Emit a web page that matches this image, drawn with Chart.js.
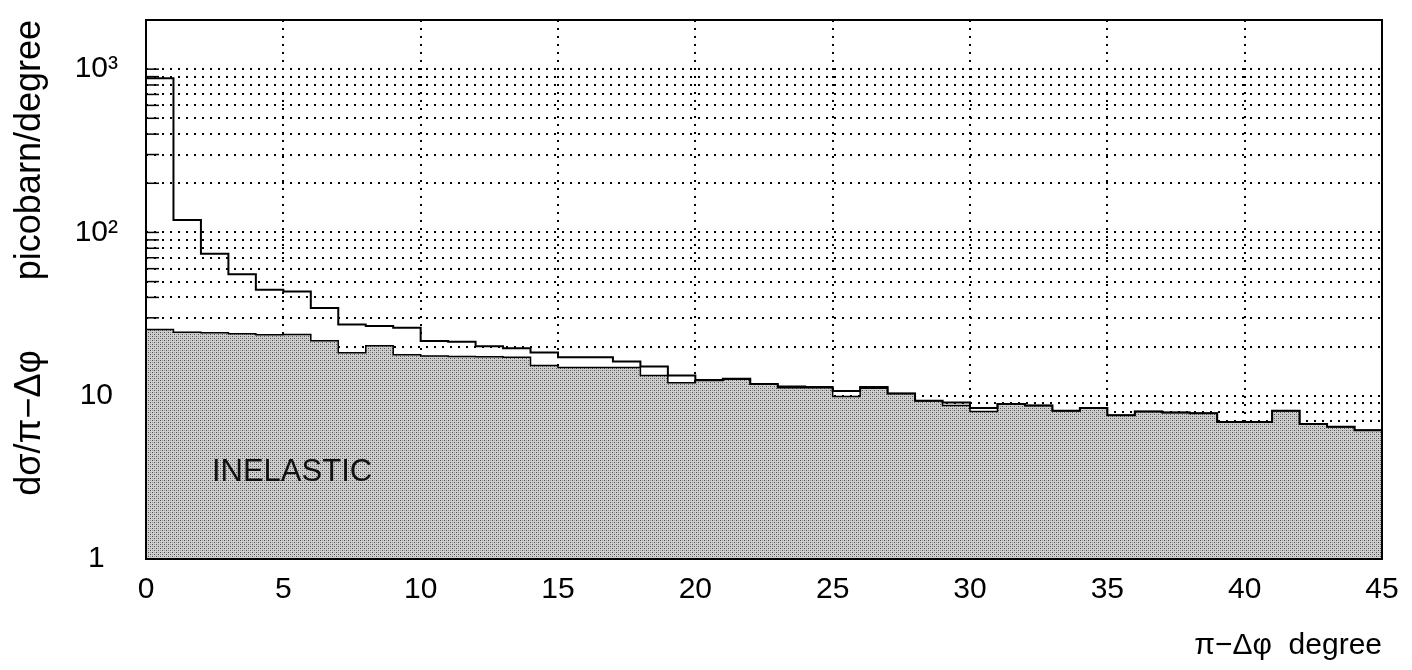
<!DOCTYPE html>
<html>
<head>
<meta charset="utf-8">
<script src="https://cdn.jsdelivr.net/npm/chart.js@4.4.0/dist/chart.umd.min.js"></script>
<style>
  html, body { margin: 0; padding: 0; background: #fff; }
</style>
</head>
<body>
<canvas id="dphiChart" width="1412" height="670"></canvas>
<script>
// 1 degree bins, 0..45
const binEdges = [0, 1, 2, 3, 4, 5, 6, 7, 8, 9, 10, 11, 12, 13, 14, 15, 16, 17, 18, 19, 20, 21, 22,
    23, 24, 25, 26, 27, 28, 29, 30, 31, 32, 33, 34, 35, 36, 37, 38, 39, 40, 41, 42, 43, 44, 45];

// total (elastic + inelastic), picobarn/degree
const totalXsec = [880, 119, 74, 55.5, 44.5, 43.5, 34.4, 27.3, 26.7, 26.1, 21.6, 21.4, 20.1, 19.5, 18.4,
    17.2, 17.2, 16.2, 15.1, 13.3, 12.5, 12.7, 11.8, 11.4, 11.3, 10.7, 11.3, 10.3, 9.3, 9.1,
    8.4, 8.9, 8.7, 8.1, 8.4, 7.6, 8.0, 7.9, 7.8, 6.9, 6.9, 8.1, 6.7, 6.45, 6.15];

// inelastic part (shaded)
const inelasticXsec = [25.4, 24.5, 24.3, 24.0, 23.6, 23.7, 21.7, 18.3, 20.2, 17.8, 17.5, 17.4, 17.3, 17.2, 15.3,
    14.9, 14.9, 14.9, 13.3, 12.0, 12.4, 12.6, 11.8, 11.2, 11.2, 9.9, 11.1, 10.3, 9.3, 8.7,
    8.0, 8.9, 8.7, 8.1, 8.4, 7.6, 8.0, 7.9, 7.8, 6.9, 6.9, 8.1, 6.7, 6.45, 6.15];

const xTickValues = [0, 5, 10, 15, 20, 25, 30, 35, 40, 45];
const yGridValues = [1, 2, 3, 4, 5, 6, 7, 8, 9, 10, 20, 30, 40, 50, 60, 70, 80, 90,
    100, 200, 300, 400, 500, 600, 700, 800, 900, 1000, 2000];
const yLabelValues = [1, 10, 100, 1000];
const yLabelTexts = ['1', '10', '10²', '10³'];

const inelasticLabel = { text: 'INELASTIC', x: 2.4, y: 3.4 };

const FONT = 'Liberation Sans';

function histPoints(values) {
    const pts = values.map((v, i) => ({ x: binEdges[i], y: v }));
    pts.push({ x: binEdges[values.length], y: values[values.length - 1] });
    return pts;
}

// grey halftone like the scanned plot
function halftone() {
    const c = document.createElement('canvas');
    c.width = 4;
    c.height = 4;
    const g = c.getContext('2d');
    g.fillStyle = '#cfcfcf';
    g.fillRect(0, 0, 4, 4);
    g.fillStyle = '#4d4d4d';
    g.fillRect(0, 0, 1, 1);
    g.fillRect(2, 2, 1, 1);
    g.fillStyle = '#9a9a9a';
    g.fillRect(2, 0, 1, 1);
    g.fillRect(0, 2, 1, 1);
    return g.createPattern(c, 'repeat');
}

// small solid ticks inside the left frame
const innerTicks = {
    id: 'innerTicks',
    beforeDatasetsDraw(chart) {
        const { ctx, chartArea, scales } = chart;
        ctx.save();
        ctx.strokeStyle = '#000';
        ctx.lineWidth = 1.5;
        yGridValues.forEach(v => {
            const y = scales.y.getPixelForValue(v);
            ctx.beginPath();
            ctx.moveTo(chartArea.left, y);
            ctx.lineTo(chartArea.left + 13, y);
            ctx.stroke();
        });
        ctx.restore();
    }
};

const frameAndLabel = {
    id: 'frameAndLabel',
    afterDraw(chart) {
        const { ctx, chartArea, scales } = chart;
        ctx.save();
        ctx.strokeStyle = '#000';
        ctx.lineWidth = 2;
        ctx.strokeRect(chartArea.left, chartArea.top,
            chartArea.right - chartArea.left, chartArea.bottom - chartArea.top);
        ctx.fillStyle = '#111';
        ctx.font = '31px "' + FONT + '"';
        ctx.textBaseline = 'middle';
        ctx.fillText(inelasticLabel.text,
            scales.x.getPixelForValue(inelasticLabel.x),
            scales.y.getPixelForValue(inelasticLabel.y));
        ctx.restore();
    }
};

const ctx = document.getElementById('dphiChart').getContext('2d');
new Chart(ctx, {
    type: 'line',
    data: {
        datasets: [{
            label: 'total',
            data: histPoints(totalXsec),
            stepped: 'before',
            borderColor: '#000',
            borderWidth: 2,
            pointRadius: 0,
            fill: false
        }, {
            label: 'inelastic',
            data: histPoints(inelasticXsec),
            stepped: 'before',
            borderColor: '#000',
            borderWidth: 1.5,
            pointRadius: 0,
            backgroundColor: halftone(),
            fill: 'start'
        }]
    },
    options: {
        responsive: false,
        animation: false,
        layout: {
            padding: { top: 20, right: 30, left: 0, bottom: 0 }
        },
        plugins: {
            legend: { display: false },
            tooltip: { enabled: false }
        },
        scales: {
            x: {
                type: 'linear',
                min: 0,
                max: 45,
                afterBuildTicks: scale => {
                    scale.ticks = xTickValues.map(v => ({ value: v }));
                },
                afterFit: scale => {
                    scale.height = 111;
                    scale.paddingLeft = 0;
                    scale.paddingRight = 0;
                },
                ticks: {
                    autoSkip: false,
                    maxRotation: 0,
                    padding: 13,
                    color: '#000',
                    font: { family: FONT, size: 30 }
                },
                grid: { color: '#000', lineWidth: 2, drawTicks: false },
                border: { display: false, dash: [2, 6] },
                title: {
                    display: true,
                    text: 'π−Δφ  degree',
                    align: 'end',
                    color: '#000',
                    font: { family: FONT, size: 30 },
                    padding: { top: 0, bottom: 6 }
                }
            },
            y: {
                type: 'logarithmic',
                min: 1,
                max: 2000,
                afterBuildTicks: scale => {
                    scale.ticks = yGridValues.map(v => ({ value: v }));
                },
                afterFit: scale => {
                    scale.width = 146;
                    scale.paddingTop = 0;
                    scale.paddingBottom = 0;
                },
                ticks: {
                    autoSkip: false,
                    crossAlign: 'center',
                    padding: 28,
                    color: '#000',
                    font: { family: FONT, size: 30 },
                    callback: v => {
                        const i = yLabelValues.indexOf(v);
                        return i >= 0 ? yLabelTexts[i] : '';
                    }
                },
                grid: { color: '#000', lineWidth: 2, drawTicks: false },
                border: { display: false, dash: [2, 6] },
                title: {
                    display: true,
                    text: 'dσ/π−Δφ       picobarn/degree',
                    align: 'end',
                    color: '#000',
                    font: { family: FONT, size: 36 },
                    padding: { top: 8, bottom: 0 }
                }
            }
        }
    },
    plugins: [innerTicks, frameAndLabel]
});
</script>
</body>
</html>
